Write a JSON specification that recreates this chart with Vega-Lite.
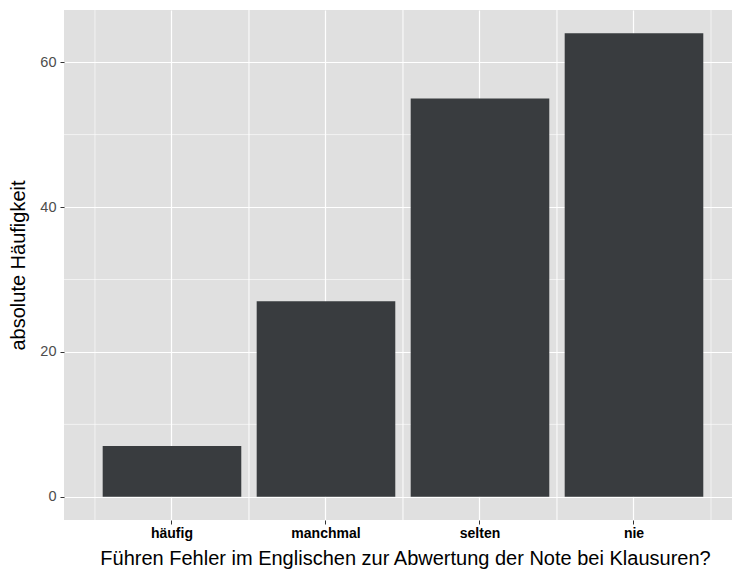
{
  "$schema": "https://vega.github.io/schema/vega-lite/v6.json",
  "width": 668,
  "height": 510,
  "autosize": {"type": "none"},
  "padding": {"left": 64, "top": 10, "right": 0, "bottom": 49},
  "background": "white",
  "config": {
    "view": {"fill": "#E0E0E0", "stroke": null},
    "font": "Liberation Sans"
  },
  "data": {
    "values": [
      {"kategorie": "häufig", "anzahl": 7},
      {"kategorie": "manchmal", "anzahl": 27},
      {"kategorie": "selten", "anzahl": 55},
      {"kategorie": "nie", "anzahl": 64}
    ]
  },
  "layer": [
    {
      "data": {"values": [{"v": 10}, {"v": 30}, {"v": 50}]},
      "mark": {"type": "rule", "color": "white", "strokeWidth": 0.6},
      "encoding": {
        "y": {"field": "v", "type": "quantitative", "scale": {"domain": [-3.2, 67.2]}}
      }
    },
    {
      "mark": {"type": "rule", "color": "white", "strokeWidth": 0.6},
      "encoding": {
        "x": {"field": "kategorie", "type": "nominal", "bandPosition": -0.0556, "sort": ["häufig", "manchmal", "selten", "nie"]}
      }
    },
    {
      "mark": {"type": "rule", "color": "white", "strokeWidth": 0.6},
      "encoding": {
        "x": {"field": "kategorie", "type": "nominal", "bandPosition": 1.0556, "sort": ["häufig", "manchmal", "selten", "nie"]}
      }
    },
    {
      "mark": {"type": "bar", "color": "#393C3F"},
      "encoding": {
        "x": {
          "field": "kategorie",
          "type": "nominal",
          "sort": ["häufig", "manchmal", "selten", "nie"],
          "scale": {"paddingInner": 0.1, "paddingOuter": 0.2188, "align": 0.574},
          "axis": {
            "title": "Führen Fehler im Englischen zur Abwertung der Note bei Klausuren?",
            "titleFontSize": 20,
            "titleFontWeight": "normal",
            "titleColor": "black",
            "titlePadding": 8,
            "titleX": 341,
            "titleAnchor": null,
            "titleAlign": "center",
            "labelAngle": 0,
            "labelAlign": "center",
            "labelFontSize": 14,
            "labelFontWeight": "bold",
            "labelColor": "black",
            "labelPadding": 9,
            "tickSize": 4,
            "tickColor": "#333333",
            "tickWidth": 1,
            "domain": false,
            "grid": true,
            "gridColor": "white",
            "gridWidth": 1.2,
            "bandPosition": 0.5
          }
        },
        "y": {
          "field": "anzahl",
          "type": "quantitative",
          "scale": {"domain": [-3.2, 67.2], "nice": false, "zero": false},
          "axis": {
            "title": "absolute Häufigkeit",
            "titleFontSize": 20,
            "titleFontWeight": "normal",
            "titleColor": "black",
            "titlePadding": 11,
            "values": [0, 20, 40, 60],
            "labelFontSize": 14.5,
            "labelColor": "#4D4D4D",
            "labelPadding": 4,
            "tickSize": 4,
            "tickColor": "#333333",
            "tickWidth": 1,
            "domain": false,
            "grid": true,
            "gridColor": "white",
            "gridWidth": 1.2
          }
        }
      }
    }
  ]
}
